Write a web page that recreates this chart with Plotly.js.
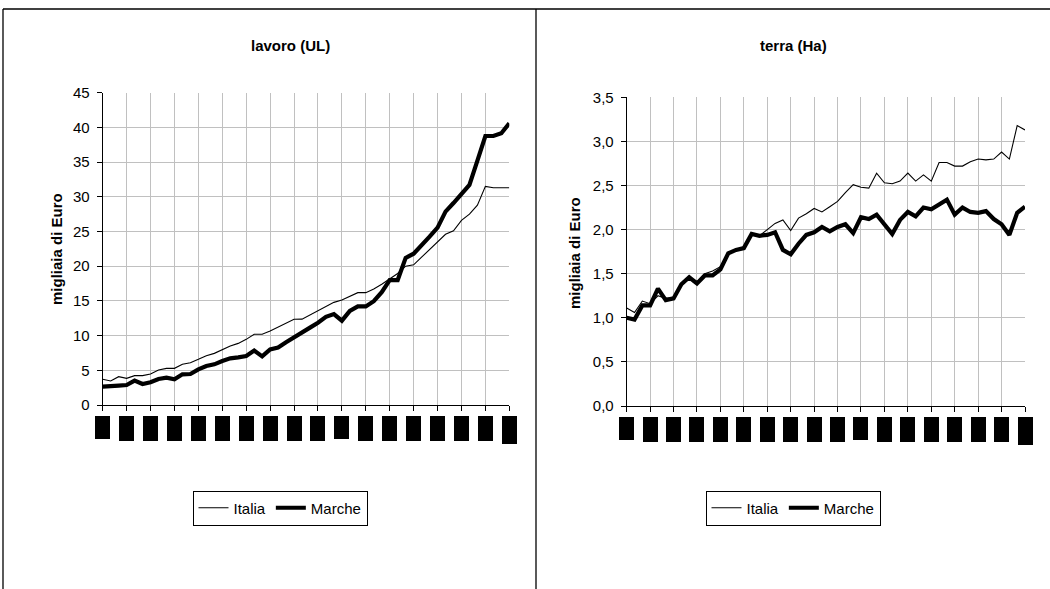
<!DOCTYPE html>
<html>
<head>
<meta charset="utf-8">
<script src="https://cdn.plot.ly/plotly-3.0.1.min.js"></script>
<style>
  html, body { margin: 0; padding: 0; background: #ffffff; }
  #chart { width: 1050px; height: 589px; }
</style>
</head>
<body>
<div id="chart"></div>
<script>
// Valore aggiunto per unità di lavoro e per ettaro (migliaia di euro)
const seriesNames = ['Italia', 'Marche'];
const panelTitles = ['lavoro (UL)', 'terra (Ha)'];
const yTitle = 'migliaia di Euro';

const lavoroItalia = [3.70, 3.46, 4.08, 3.84, 4.23, 4.23, 4.47, 5.04, 5.28, 5.28,
  5.86, 6.10, 6.58, 7.11, 7.44, 8.02, 8.50, 8.88, 9.46, 10.19,
  10.19, 10.66, 11.19, 11.77, 12.35, 12.37, 12.97, 13.54, 14.17, 14.79,
  15.13, 15.71, 16.19, 16.19, 16.71, 17.39, 18.16, 18.95, 20.00, 20.20,
  21.30, 22.40, 23.50, 24.60, 25.10, 26.60, 27.50, 28.80, 31.50, 31.30,
  31.30, 31.30];
const lavoroMarche = [2.64, 2.64, 2.79, 2.88, 3.51, 3.03, 3.27, 3.75, 3.94, 3.70,
  4.42, 4.47, 5.14, 5.62, 5.86, 6.34, 6.72, 6.87, 7.06, 7.85,
  7.00, 8.02, 8.28, 9.04, 9.70, 10.45, 11.15, 11.86, 12.70, 13.10,
  12.15, 13.55, 14.20, 14.20, 14.95, 16.25, 18.00, 18.00, 21.20, 21.80,
  22.95, 24.25, 25.55, 27.86, 29.10, 30.30, 31.70, 35.20, 38.76, 38.76,
  39.15, 40.60];

const terraItalia = [1.11, 1.06, 1.19, 1.16, 1.25, 1.22, 1.23, 1.39, 1.46, 1.40,
  1.50, 1.53, 1.58, 1.72, 1.77, 1.80, 1.95, 1.93, 2.00, 2.07,
  2.11, 1.99, 2.13, 2.18, 2.24, 2.20, 2.26, 2.32, 2.42, 2.51,
  2.48, 2.47, 2.64, 2.53, 2.52, 2.55, 2.64, 2.55, 2.62, 2.55,
  2.76, 2.76, 2.72, 2.72, 2.77, 2.80, 2.79, 2.80, 2.88, 2.80,
  3.18, 3.13];
const terraMarche = [1.00, 0.98, 1.14, 1.14, 1.33, 1.20, 1.22, 1.38, 1.46, 1.39,
  1.48, 1.48, 1.55, 1.73, 1.77, 1.79, 1.95, 1.93, 1.94, 1.97,
  1.77, 1.72, 1.84, 1.94, 1.97, 2.03, 1.98, 2.03, 2.06, 1.96,
  2.14, 2.12, 2.17, 2.05, 1.95, 2.11, 2.20, 2.15, 2.25, 2.23,
  2.28, 2.34, 2.17, 2.25, 2.20, 2.19, 2.21, 2.12, 2.06, 1.94,
  2.19, 2.26];

// one category per year, a tick every third year
const periods = lavoroItalia.map((_, i) => i);
const tickStep = 3;
const tickPositions = periods.filter(i => i % tickStep === 0);

// ---- drawing ----
const W = 1050, H = 589;
const px = v => v / W;
const py = v => (H - v) / H;

const FONT = 'Liberation Sans, Arial, Helvetica, sans-serif';
const thin = { color: '#000000', width: 1.1 };
const thick = { color: '#000000', width: 4.2 };

const traces = [
  { x: periods, y: lavoroItalia, name: seriesNames[0], xaxis: 'x', yaxis: 'y', legend: 'legend', mode: 'lines', line: thin, hoverinfo: 'skip' },
  { x: periods, y: lavoroMarche, name: seriesNames[1], xaxis: 'x', yaxis: 'y', legend: 'legend', mode: 'lines', line: thick, hoverinfo: 'skip' },
  { x: periods, y: terraItalia, name: seriesNames[0], xaxis: 'x2', yaxis: 'y2', legend: 'legend2', mode: 'lines', line: thin, hoverinfo: 'skip' },
  { x: periods, y: terraMarche, name: seriesNames[1], xaxis: 'x2', yaxis: 'y2', legend: 'legend2', mode: 'lines', line: thick, hoverinfo: 'skip' }
];

const gridColor = '#c0c0c0';
function xAxis(domain, anchor) {
  return {
    domain, anchor, range: [0, periods.length - 1],
    tickmode: 'array', tickvals: tickPositions, showticklabels: false,
    showgrid: true, gridcolor: gridColor, gridwidth: 1,
    showline: true, linecolor: '#000000', linewidth: 1,
    ticks: 'outside', ticklen: 5, tickcolor: '#000000', tickwidth: 1,
    zeroline: false, automargin: false, fixedrange: true
  };
}
function yAxis(domain, anchor, range, dtick, fmt) {
  return {
    domain, anchor, range, dtick, tick0: 0, tickformat: fmt,
    showgrid: true, gridcolor: gridColor, gridwidth: 1,
    showline: true, linecolor: '#000000', linewidth: 1,
    ticks: 'outside', ticklen: 5, tickcolor: '#000000', tickwidth: 1,
    ticklabelstandoff: 4,
    tickfont: { family: FONT, size: 15, color: '#000000' },
    zeroline: false, automargin: false, fixedrange: true
  };
}

// panel frames
const frame = { color: '#000000', width: 1.3 };
const frameShapes = [
  { type: 'line', xref: 'paper', yref: 'paper', x0: px(3), x1: 1, y0: py(9), y1: py(9), line: frame },
  { type: 'line', xref: 'paper', yref: 'paper', x0: px(3), x1: px(3), y0: py(9), y1: 0, line: frame },
  { type: 'line', xref: 'paper', yref: 'paper', x0: px(536), x1: px(536), y0: py(9), y1: 0, line: frame }
];

const titleFont = { family: FONT, size: 15, color: '#000000' };
const annotations = [
  { text: '<b>' + panelTitles[0] + '</b>', xref: 'paper', yref: 'paper', x: px(290), y: py(46), xanchor: 'center', yanchor: 'middle', showarrow: false, font: titleFont },
  { text: '<b>' + panelTitles[1] + '</b>', xref: 'paper', yref: 'paper', x: px(793), y: py(46), xanchor: 'center', yanchor: 'middle', showarrow: false, font: titleFont },
  { text: '<b>' + yTitle + '</b>', xref: 'paper', yref: 'paper', x: px(56), y: py(249), xanchor: 'center', yanchor: 'middle', textangle: -90, showarrow: false, font: titleFont },
  { text: '<b>' + yTitle + '</b>', xref: 'paper', yref: 'paper', x: px(575), y: py(253), xanchor: 'center', yanchor: 'middle', textangle: -90, showarrow: false, font: titleFont }
];

// redacted year labels: solid black boxes hanging under each category tick
const labelDepth = tickPositions.map((_, k) =>
  (k === 0 || k === 10) ? 22.5 : (k === tickPositions.length - 1 ? 28 : 25));
[['x', 405], ['x2', 406]].forEach(([xr, axisY]) => {
  tickPositions.forEach((t, k) => {
    annotations.push({
      text: '&nbsp;', xref: xr, yref: 'paper', x: t, y: py(axisY),
      xanchor: 'center', yanchor: 'top', yshift: -10.7,
      width: 15, height: labelDepth[k], borderpad: 0, borderwidth: 0,
      bgcolor: '#000000', showarrow: false, font: { size: 1, color: '#000000' }
    });
  });
});

const legendBase = {
  orientation: 'h', xanchor: 'center', yanchor: 'middle',
  bgcolor: '#ffffff', bordercolor: '#000000', borderwidth: 1,
  font: { family: FONT, size: 15, color: '#000000' },
  itemclick: false, itemdoubleclick: false, traceorder: 'normal'
};

const layout = {
  width: W, height: H,
  margin: { l: 0, r: 0, t: 0, b: 0, pad: 0 },
  paper_bgcolor: '#ffffff', plot_bgcolor: '#ffffff',
  separators: ',.',
  font: { family: FONT, size: 15, color: '#000000' },
  showlegend: true,
  xaxis: xAxis([px(102.7), px(509.3)], 'y'),
  yaxis: yAxis([py(405), py(92.7)], 'x', [0, 45], 5, 'd'),
  xaxis2: xAxis([px(626.7), px(1025)], 'y2'),
  yaxis2: yAxis([py(406), py(97.3)], 'x2', [0, 3.5], 0.5, '.1f'),
  legend: Object.assign({}, legendBase, { x: px(280), y: py(508) }),
  legend2: Object.assign({}, legendBase, { x: px(793), y: py(508) }),
  shapes: frameShapes,
  annotations
};

Plotly.newPlot('chart', traces, layout, { displayModeBar: false, staticPlot: true });
</script>
</body>
</html>
